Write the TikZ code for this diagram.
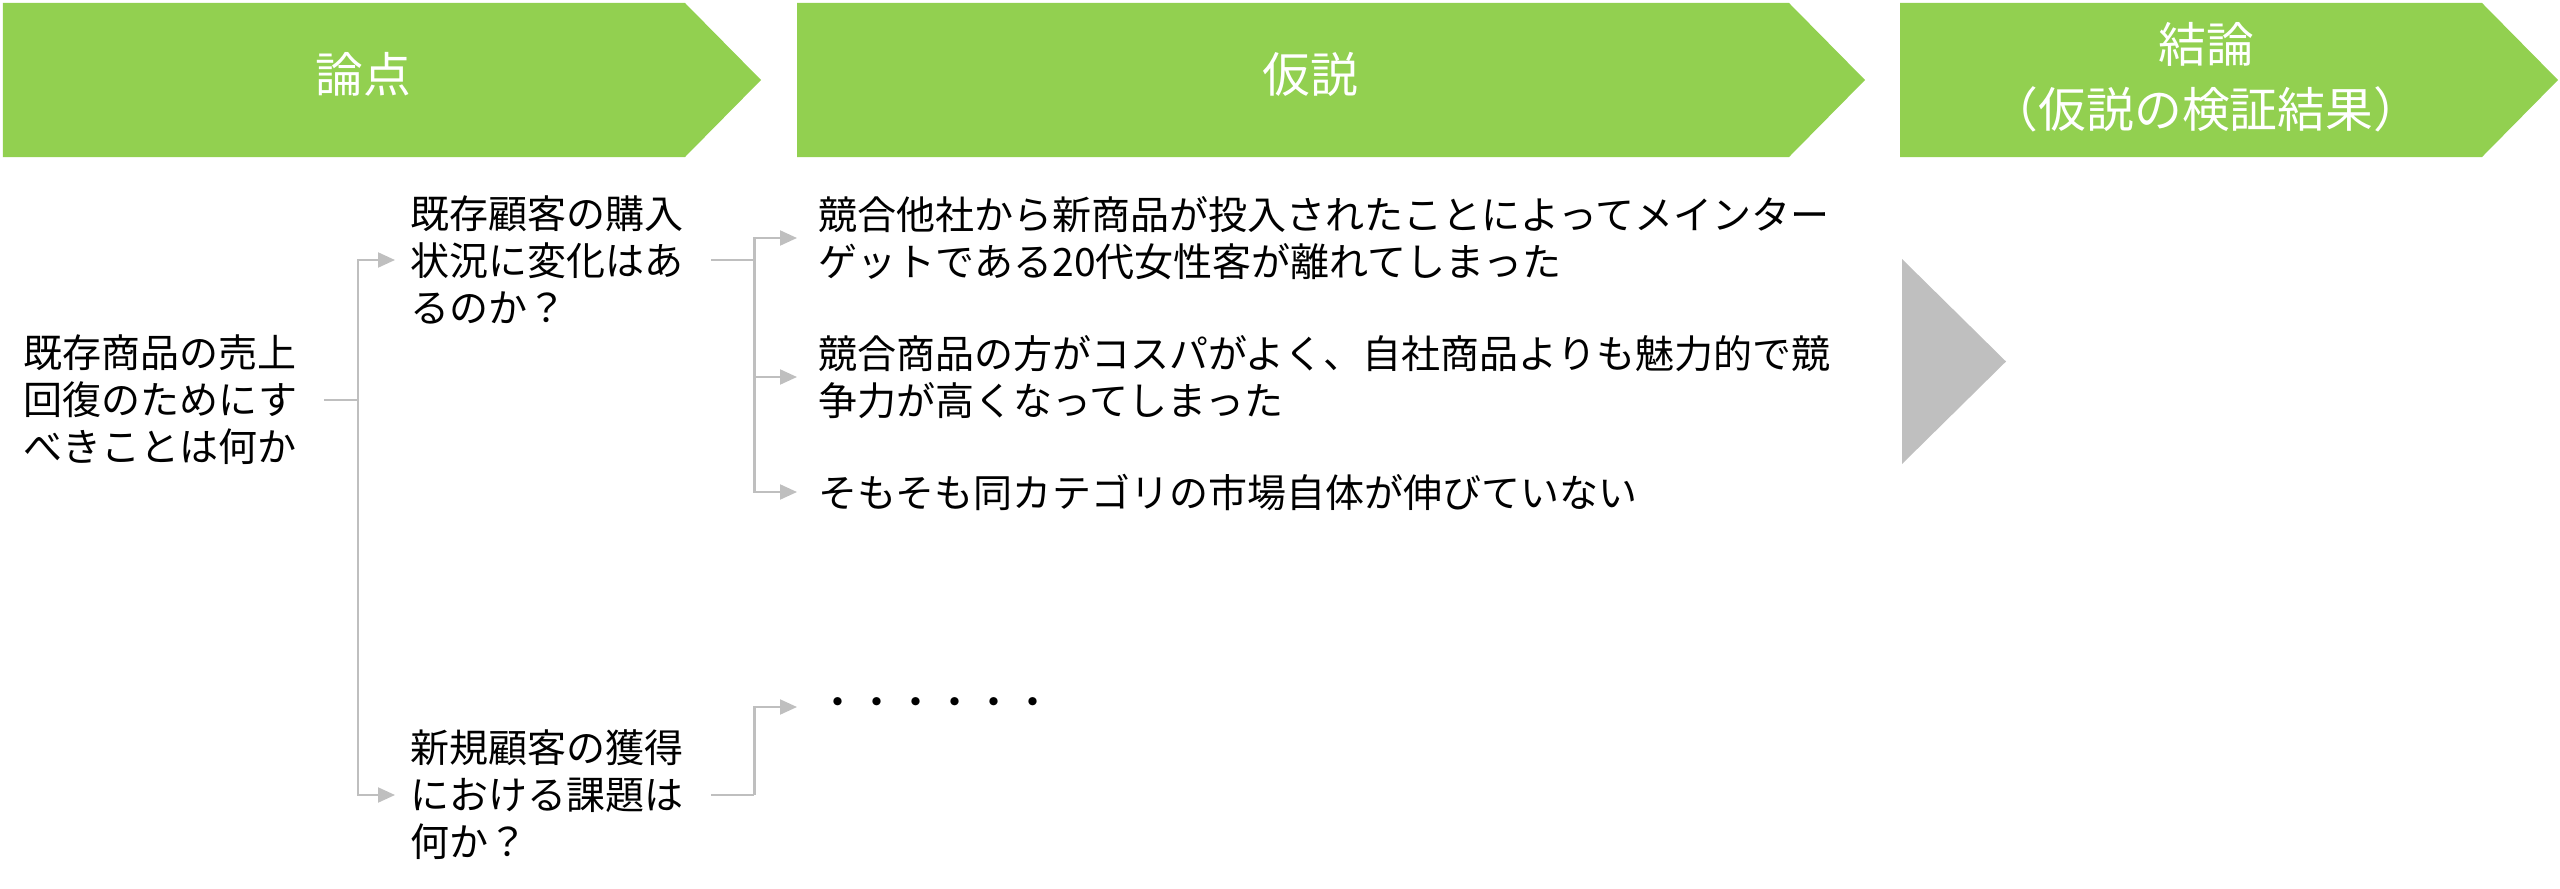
\documentclass[tikz,border=0pt]{standalone}
\usepackage{fontspec}
\setmainfont{Noto Sans CJK JP}
\usetikzlibrary{arrows.meta,positioning}
\definecolor{bannergreen}{HTML}{92D050}
\definecolor{linkgrey}{HTML}{BFBFBF}

\def\tipdepth{0.76}

\begin{document}
\begin{tikzpicture}
    \tikzstyle{banner}=[fill=bannergreen]
    \tikzstyle{title}=[text=white, align=center, inner sep=0pt, font=\fontsize{13.6pt}{18.4pt}\selectfont]
    \tikzstyle{item}=[anchor=west, align=left, inner sep=0pt, font=\fontsize{11.1pt}{13.4pt}\selectfont]
    \tikzstyle{link}=[draw=linkgrey, line width=0.6pt]
    \tikzstyle{arrow}=[link, -{Triangle[length=0.17cm,width=0.15cm]}]

    \useasboundingbox (0,0) rectangle (25.6,-8.89);

    % Draw the three banners
    \fill[banner] (0.03,-0.03) -- (6.85,-0.03) -- (6.85+\tipdepth,-0.80) -- (6.85,-1.57) -- (0.03,-1.57) -- cycle;
    \fill[banner] (7.97,-0.03) -- (17.89,-0.03) -- (17.89+\tipdepth,-0.80) -- (17.89,-1.57) -- (7.97,-1.57) -- cycle;
    \fill[banner] (19.00,-0.03) -- (24.82,-0.03) -- (24.82+\tipdepth,-0.80) -- (24.82,-1.57) -- (19.00,-1.57) -- cycle;
    \node[title] (T-1) at (3.63,-0.74) {論点};
    \node[title] (T-2) at (13.10,-0.74) {仮説};
    \node[title] (T-3) at (22.06,-0.77) {結論\\（仮説の検証結果）};

    % Grey triangle between hypothesis and conclusion
    \fill[linkgrey] (19.02,-2.59) -- (20.06,-3.615) -- (19.02,-4.64) -- cycle;

    % Issue, sub-issues and hypotheses
    \node[item] (root) at (0.23,-4.00) {既存商品の売上\\回復のためにす\\べきことは何か};
    \node[item] (q-1) at (4.10,-2.60) {既存顧客の購入\\状況に変化はあ\\るのか？};
    \node[item] (q-2) at (4.10,-7.95) {新規顧客の獲得\\における課題は\\何か？};
    \node[item] (h-1) at (8.18,-2.38) {競合他社から新商品が投入されたことによってメインター\\ゲットである20代女性客が離れてしまった};
    \node[item] (h-2) at (8.18,-3.77) {競合商品の方がコスパがよく、自社商品よりも魅力的で競\\争力が高くなってしまった};
    \node[item] (h-3) at (8.18,-4.92) {そもそも同カテゴリの市場自体が伸びていない};
    \node[item] (h-4) at (8.18,-7.07) {・・・・・・};

    % Junction points of the tree
    \coordinate[right=0.6cm of root] (j-1);
    \coordinate[right=0.7cm of q-1] (j-2);
    \coordinate[right=0.7cm of q-2] (j-3);

    % Connect the issue with the sub-issues
    \draw[link] ([xshift=0.26cm]root.east) -- (j-1);
    \foreach \q in {1,2}
        \draw[arrow, shorten >=0.15cm] (j-1) |- (q-\q.west);

    % Connect every sub-issue with its hypotheses
    \draw[link] ([xshift=0.27cm]q-1.east) -- (j-2);
    \foreach \h in {1,2,3}
        \draw[arrow, shorten >=0.21cm] (j-2) |- (h-\h.west);
    \draw[link] ([xshift=0.27cm]q-2.east) -- (j-3);
    \draw[arrow, shorten >=0.21cm] (j-3) |- (h-4.west);
\end{tikzpicture}
\end{document}
